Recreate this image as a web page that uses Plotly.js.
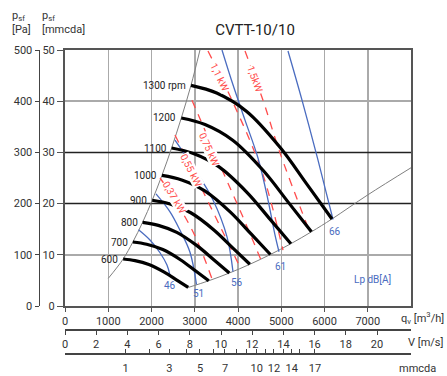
<!DOCTYPE html>
<html><head><meta charset="utf-8">
<script src="https://cdn.plot.ly/plotly-3.0.1.min.js"></script>
<style>html,body{margin:0;padding:0;background:#fff}#chart{width:447px;height:376px}</style>
</head><body><div id="chart"></div>
<script>
// ---- data (flow q in m3/h, static pressure in mmcda) ----
const flowRange = [0,8000];
const flowTicks = [0,1000,2000,3000,4000,5000,6000,7000];
const pressTicksMm = [0,10,20,30,40,50];
const pressTicksPa = [0,100,200,300,400,500];
const velTicks = [0,2,4,6,8,10,12,14,16,18,20];
const dynPressQ = [1403,1965,2412,2798,3121,3429,3699,3970,4201,4432,4640,4832,5047,5241,5417,5780];
const dynPressLabels = ['1','','3','','5','','7','','','10','','12','','14','','17'];
const darkGridLevels = [20,30];

const rpmLabels = ['600','700','800','900','1000','1100','1200','1300 rpm'];
const fanQ = [
 [1345,1619,1939,2294,2585,2849],
 [1569,1888,2262,2677,3015,3324],
 [1793,2158,2585,3059,3446,3799],
 [2017,2428,2908,3442,3877,4274],
 [2241,2698,3232,3824,4308,4749],
 [2465,2968,3555,4206,4739,5223],
 [2689,3237,3878,4589,5169,5698],
 [2913,3507,4201,4971,5600,6173]];
const fanP = [
 [9.18,8.86,8.09,6.60,5.05,3.62],
 [12.50,12.06,11.02,8.99,6.87,4.93],
 [16.32,15.75,14.39,11.74,8.98,6.44],
 [20.66,19.94,18.21,14.86,11.36,8.15],
 [25.50,24.62,22.49,18.34,14.02,10.06],
 [30.86,29.78,27.21,22.20,16.97,12.17],
 [36.72,35.45,32.38,26.41,20.19,14.49],
 [43.1,41.6,38.0,31.0,23.7,17.0]];

const stallQ = [1001,1345,1569,1793,2017,2241,2465,2689,2913,3121];
const stallP = [5.4,9.18,12.5,16.32,20.66,25.5,30.86,36.72,43.1,50];
const systemQ = [2849,3324,3799,4274,4749,5223,5698,6173,7000,8000];
const systemP = [3.62,4.93,6.44,8.15,10.06,12.17,14.49,17.0,21.7,27.0];

const noiseLabels = ['46','51','56','61','66'];
const noiseQ = [
 [1700,1965,2197,2358,2428],
 [2104,2428,2659,2890,3040],
 [2543,3006,3422,3746,3884],
 [3630,3884,4162,4462,4694,4855,4948],
 [5156,5480,5850,6035,6197]];
const noiseP = [
 [14.9,12.9,10.4,8.0,6.0],
 [21.9,18.4,14.8,10.5,4.2],
 [32.4,26.6,20.7,13.5,6.7],
 [50,43.2,36.3,28.9,20.7,13.9,10.6],
 [49.8,40.2,28.5,22.3,16.9]];
const noiseLabelQ = [2428,3098,3977,4994,6243];
const noiseLabelP = [4.1,2.5,4.5,7.8,14.5];

const powerLabels = ['0,37 kW','0,55 kW','0,75 kW','1,1 kW','1,5kW'];
const powerQ = [
 [2197,2543,3006,3399],
 [2543,3121,3630,4046],
 [2936,3584,4092,4532],
 [3306,3861,4555,5040],
 [4162,4578,4971,5665]];
const powerP = [
 [25.0,20.7,13.7,5.3],
 [33.4,23.6,14.8,7.6],
 [40.2,27.5,17.8,9.0],
 [49.8,40.2,26.2,10.9],
 [49.8,40.2,29.9,14.3]];
const powerLabelQ = [2520,2913,3329,3584,4393];
const powerLabelP = [21.1,26.4,30.5,44.7,44.5];
const powerLabelAngle = [59,63,66,64,70];

// ---- drawing ----
const FONT = 'Roboto, "Liberation Sans", sans-serif';
const BLUE = '#4a6cc0', RED = '#ff4d4d';
const traces = [];
darkGridLevels.forEach(v=>traces.push({x:flowRange, y:[v,v], mode:'lines', line:{color:'#222', width:1.5}, hoverinfo:'skip'}));
traces.push({x: stallQ, y: stallP, mode:'lines', line:{color:'#808080', width:1, shape:'spline'}, hoverinfo:'skip'});
traces.push({x: systemQ, y: systemP, mode:'lines', line:{color:'#808080', width:1, shape:'spline'}, hoverinfo:'skip'});
powerQ.forEach((q,i)=>traces.push({x:q, y:powerP[i], mode:'lines', line:{color:RED, width:1.3, dash:'8px,7px', shape:'spline'}, hoverinfo:'skip'}));
noiseQ.forEach((q,i)=>traces.push({x:q, y:noiseP[i], mode:'lines', line:{color:BLUE, width:1.3, shape:'spline'}, hoverinfo:'skip'}));
fanQ.forEach((q,i)=>traces.push({x:q, y:fanP[i], mode:'lines', line:{color:'#000', width:3.2, shape:'spline'}, hoverinfo:'skip'}));

const W=447, H=376, L=30, R=36, T=50, B=22;
const pw = W-L-R, ph = H-T-B;
const px = v => (v-L)/pw;          // container px -> paper x
const py = v => (H-B-v)/ph;        // container px -> paper y
const xDom = [px(65),1];
const yDom = [py(306),1];

const ann = [];
rpmLabels.forEach((t,i)=>ann.push({x:fanQ[i][0], y:fanP[i][0], xref:'x', yref:'y', text:t, showarrow:false, xanchor:'right', yanchor:'middle', xshift:-3, font:{family:FONT,size:10,color:'#222'}}));
noiseLabels.forEach((t,i)=>ann.push({x:noiseLabelQ[i], y:noiseLabelP[i], xref:'x', yref:'y', text:t, showarrow:false, font:{family:FONT,size:10,color:BLUE}}));
powerLabels.forEach((t,i)=>ann.push({x:powerLabelQ[i], y:powerLabelP[i], xref:'x', yref:'y', text:t, showarrow:false, textangle:powerLabelAngle[i], bgcolor:'#fff', borderpad:0, font:{family:FONT,size:10,color:RED}}));
ann.push({x:7121, y:5.1, xref:'x', yref:'y', text:'Lp dB[A]', showarrow:false, font:{family:FONT,size:10,color:BLUE}});
ann.push({x:px(10), y:py(7), xref:'paper', yref:'paper', text:'p<sub>sf</sub><br>[Pa]', align:'left', showarrow:false, xanchor:'left', yanchor:'top', font:{family:FONT,size:11,color:'#333'}});
ann.push({x:px(40), y:py(7), xref:'paper', yref:'paper', text:'p<sub>sf</sub><br>[mmcda]', align:'left', showarrow:false, xanchor:'left', yanchor:'top', font:{family:FONT,size:11,color:'#333'}});
ann.push({x:px(446), y:py(318), xref:'paper', yref:'paper', text:'q<sub>v</sub> [m<sup>3</sup>/h]', showarrow:false, xanchor:'right', yanchor:'middle', font:{family:FONT,size:11,color:'#333'}});
ann.push({x:px(446), y:py(342), xref:'paper', yref:'paper', text:'V [m/s]', showarrow:false, xanchor:'right', yanchor:'middle', font:{family:FONT,size:11,color:'#333'}});
ann.push({x:px(438), y:py(368), xref:'paper', yref:'paper', text:'mmcda', showarrow:false, xanchor:'right', yanchor:'middle', font:{family:FONT,size:11,color:'#333'}});

const tickFont = {family:FONT, size:11, color:'#333'};
const layout = {
  width:W, height:H, margin:{l:L, r:R, t:T, b:B, pad:0},
  paper_bgcolor:'#fff', plot_bgcolor:'#fff', showlegend:false,
  title:{text:'CVTT-10/10', x:255/W, xanchor:'center', y:1-30/H, yanchor:'middle', font:{family:FONT,size:15,color:'#222'}},
  font:{family:FONT, size:11, color:'#333'},
  xaxis:{domain:xDom, range:flowRange, tickvals:flowTicks, ticktext:flowTicks.map(String), tickangle:0, ticks:'outside', ticklen:4, tickcolor:'#555', showline:true, linecolor:'#555', linewidth:2, mirror:true, showgrid:true, gridcolor:'#aaa', gridwidth:1.5, zeroline:false, tickfont:tickFont, fixedrange:true},
  yaxis:{domain:yDom, range:[0,50], tickvals:pressTicksMm, ticks:'outside', ticklen:6, tickcolor:'#555', showline:true, linecolor:'#555', linewidth:2, mirror:true, showgrid:true, gridcolor:'#aaa', gridwidth:1.5, zeroline:false, tickfont:tickFont, fixedrange:true},
  yaxis2:{overlaying:'y', anchor:'free', position:px(38.5), side:'left', range:[0,500], tickvals:pressTicksPa, ticks:'outside', ticklen:4, tickcolor:'#444', showline:true, linecolor:'#444', linewidth:1.5, showgrid:false, zeroline:false, tickfont:tickFont, fixedrange:true},
  xaxis2:{overlaying:'x', anchor:'free', position:py(329), side:'bottom', domain:xDom, range:[0,8000/360.7], tickvals:velTicks, tickangle:0, ticks:'outside', ticklen:4, tickcolor:'#444', showline:true, linecolor:'#444', linewidth:1.5, showgrid:false, zeroline:false, tickfont:tickFont, fixedrange:true},
  xaxis3:{overlaying:'x', anchor:'free', position:py(353), side:'bottom', domain:xDom, range:flowRange, tickvals:dynPressQ, ticktext:dynPressLabels, tickangle:0, ticks:'inside', ticklen:4, tickcolor:'#444', showline:true, linecolor:'#444', linewidth:1.5, showgrid:false, zeroline:false, tickfont:tickFont, ticklabelstandoff:4, fixedrange:true},
  annotations:ann
};
traces.push({x:[0], y:[0], xaxis:'x', yaxis:'y2', mode:'markers', marker:{opacity:0}, hoverinfo:'skip'});
traces.push({x:[0], y:[0], xaxis:'x2', yaxis:'y', mode:'markers', marker:{opacity:0}, hoverinfo:'skip'});
traces.push({x:[0], y:[0], xaxis:'x3', yaxis:'y', mode:'markers', marker:{opacity:0}, hoverinfo:'skip'});
Plotly.newPlot('chart', traces, layout, {displayModeBar:false, staticPlot:true});
</script></body></html>
